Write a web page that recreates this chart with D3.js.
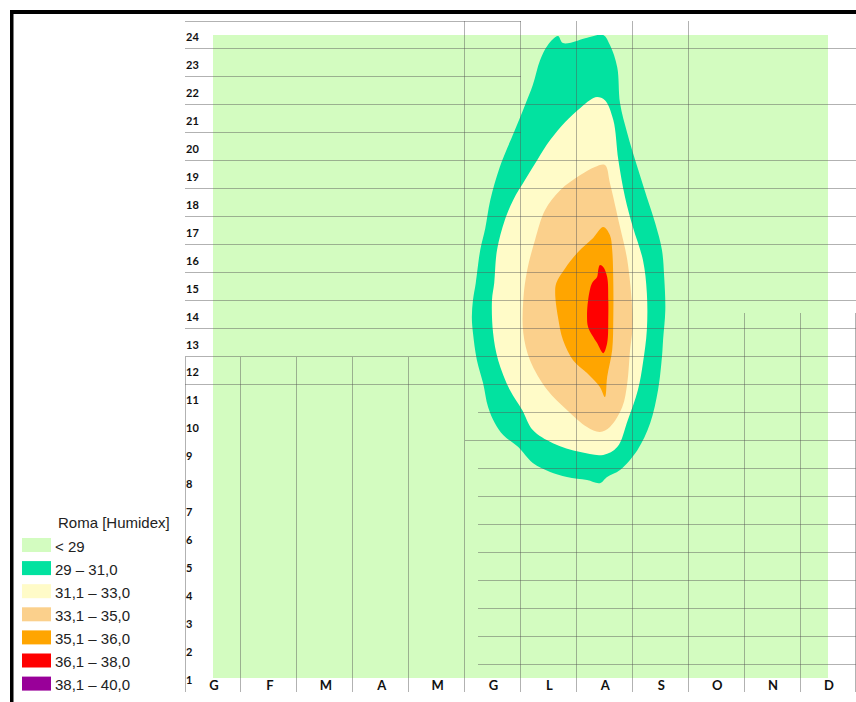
<!DOCTYPE html>
<html>
<head>
<meta charset="utf-8">
<script src="https://cdn.jsdelivr.net/npm/d3@7"></script>
<style>
  body { margin: 0; background: #fff; }
  svg { display: block; }
</style>
</head>
<body>
<svg id="chart" width="856" height="702"></svg>
<script>
// Month initials (Italian) and hours of the day
const months = ["G", "F", "M", "A", "M", "G", "L", "A", "S", "O", "N", "D"];
const hours = d3.range(1, 25);

// Legend classes
const legendTitle = "Roma [Humidex]";
const classLabels = ["< 29", "29 – 31,0", "31,1 – 33,0", "33,1 – 35,0", "35,1 – 36,0", "36,1 – 38,0", "38,1 – 40,0"];
const classColors = ["#d3fcc0", "#02e2a0", "#fffbc8", "#fbd08c", "#ffa500", "#ff0000", "#990099"];

// Isolines of the humidex field, as [month, hour] outlines
const iso29 = [
  [6.99, 23.64], [7.17, 23.96], [7.26, 23.71], [7.74, 23.93], [7.98, 24.00], [8.10, 23.64],
  [8.23, 22.85], [8.28, 21.57], [8.41, 20.49], [8.59, 19.28], [8.76, 18.20], [8.91, 17.27],
  [9.03, 16.31], [9.07, 15.34], [9.09, 14.16], [9.05, 13.09], [9.03, 12.48], [8.96, 11.30],
  [8.82, 10.12], [8.59, 9.15], [8.28, 8.44], [8.05, 8.19], [7.92, 7.97], [7.69, 8.08],
  [7.33, 8.19], [7.03, 8.37], [6.72, 8.69], [6.46, 9.26], [6.19, 9.69], [6.04, 10.12],
  [5.92, 10.69], [5.83, 11.55], [5.72, 12.37], [5.65, 13.34], [5.63, 13.91], [5.65, 14.52],
  [5.70, 15.13], [5.78, 16.31], [5.87, 17.09], [5.96, 18.10], [6.13, 19.28], [6.40, 20.60],
  [6.58, 21.49], [6.72, 22.21], [6.85, 23.10]
];
const iso31 = [
  [7.87, 21.78], [8.01, 21.67], [8.16, 20.96], [8.25, 19.53], [8.37, 18.20], [8.51, 17.13],
  [8.69, 15.95], [8.76, 14.77], [8.76, 13.45], [8.69, 12.27], [8.60, 11.30], [8.42, 10.23],
  [8.23, 9.26], [7.98, 8.98], [7.57, 9.08], [7.08, 9.40], [6.72, 9.87], [6.53, 10.59],
  [6.31, 11.30], [6.10, 12.37], [6.01, 13.34], [5.99, 14.52], [6.03, 15.13], [6.08, 16.31],
  [6.22, 17.38], [6.37, 18.10], [6.58, 18.81], [6.80, 19.53], [7.03, 20.24], [7.30, 20.89],
  [7.57, 21.39], [7.74, 21.67]
];
const iso33 = [
  [8.01, 19.35], [8.10, 18.70], [8.28, 17.13], [8.41, 15.95], [8.50, 14.16], [8.50, 13.45],
  [8.46, 12.73], [8.41, 11.55], [8.32, 10.69], [8.10, 9.98], [7.92, 9.80], [7.69, 9.98],
  [7.33, 10.59], [6.98, 11.30], [6.67, 12.37], [6.55, 13.34], [6.55, 14.52], [6.62, 15.59],
  [6.76, 16.67], [6.94, 17.74], [7.21, 18.45], [7.57, 18.99], [7.83, 19.28]
];
const iso35 = [
  [7.98, 17.13], [8.10, 16.84], [8.14, 16.31], [8.16, 15.13], [8.16, 13.91], [8.14, 12.73],
  [8.05, 11.77], [8.01, 11.05], [7.92, 11.41], [7.69, 11.91], [7.44, 12.37], [7.26, 13.09],
  [7.17, 13.91], [7.12, 14.77], [7.14, 15.13], [7.30, 15.66], [7.53, 16.24], [7.80, 16.74]
];
const iso36 = [
  [7.92, 15.77], [7.98, 15.70], [8.05, 15.34], [8.07, 14.52], [8.07, 13.91], [8.05, 12.98],
  [7.98, 12.62], [7.87, 12.98], [7.71, 13.55], [7.69, 13.91], [7.71, 14.52], [7.78, 15.13],
  [7.87, 15.34], [7.89, 15.59]
];

const bands = [
  { outline: iso29, color: classColors[1] },
  { outline: iso31, color: classColors[2] },
  { outline: iso33, color: classColors[3] },
  { outline: iso35, color: classColors[4] },
  { outline: iso36, color: classColors[5] }
];

const svg = d3.select("#chart");

const x = d3.scaleLinear().domain([1, 12]).range([213, 828]);
const y = d3.scaleLinear().domain([1, 24]).range([678, 35]);

// Field background (< 29)
svg.append("defs").append("clipPath").attr("id", "field")
  .append("rect")
  .attr("x", x(1)).attr("y", y(24))
  .attr("width", x(12) - x(1)).attr("height", y(1) - y(24));

svg.append("rect")
  .attr("x", x(1)).attr("y", y(24))
  .attr("width", x(12) - x(1)).attr("height", y(1) - y(24))
  .attr("fill", classColors[0]);

// Humidex bands
const outline = d3.line()
  .x(d => x(d[0]))
  .y(d => y(d[1]))
  .curve(d3.curveCatmullRomClosed.alpha(0.5));

svg.append("g").attr("clip-path", "url(#field)")
  .selectAll("path")
  .data(bands)
  .join("path")
  .attr("d", d => outline(d.outline))
  .attr("fill", d => d.color);

// Table grid: [hour boundary, from month, to month] and [month boundary, from hour, to hour]
const hLines = [
  [24.5, 0.5, 6.5], [23.5, 0.5, 12.5], [22.5, 0.5, 6.5], [21.5, 0.5, 12.5], [20.5, 0.5, 6.5],
  [19.5, 0.5, 12.5], [18.5, 0.5, 12.5], [17.5, 0.5, 12.5], [16.5, 0.5, 12.5], [15.5, 0.5, 12.5],
  [14.5, 0.5, 12.5], [13.5, 0.5, 12.5], [12.5, 0.5, 12.5], [11.5, 0.5, 12.5],
  [10.5, 5.74, 12.5], [9.5, 5.5, 12.5], [8.5, 5.74, 12.5], [7.5, 5.74, 12.5], [6.5, 5.74, 12.5],
  [5.5, 5.74, 12.5], [4.5, 5.74, 12.5], [3.5, 5.74, 12.5], [2.5, 5.74, 12.5], [1.5, 5.74, 12.5]
];
const vLines = [
  [0.5, 0.5, 12.5], [1.5, 0.5, 12.5], [2.5, 0.5, 12.5], [3.5, 0.5, 12.5], [4.5, 0.5, 12.5],
  [5.5, 0.5, 24.5], [6.5, 0.5, 24.5], [7.5, 0.5, 24.5], [8.5, 0.5, 24.5], [9.5, 0.5, 24.5],
  [10.5, 0.5, 14.05], [11.5, 0.5, 14.05], [12.5, 0.5, 14.05]
];

const grid = svg.append("g")
  .attr("stroke", "#555")
  .attr("stroke-opacity", 0.45)
  .attr("stroke-width", 1)
  .attr("shape-rendering", "crispEdges");

grid.selectAll("line.h").data(hLines).join("line").attr("class", "h")
  .attr("x1", d => x(d[1])).attr("x2", d => x(d[2]))
  .attr("y1", d => y(d[0])).attr("y2", d => y(d[0]));

grid.selectAll("line.v").data(vLines).join("line").attr("class", "v")
  .attr("x1", d => x(d[0])).attr("x2", d => x(d[0]))
  .attr("y1", d => y(d[1])).attr("y2", d => y(d[2]));

// Hour labels
svg.append("g")
  .selectAll("text")
  .data(hours)
  .join("text")
  .attr("x", 186)
  .attr("y", d => y(d) + 1.5)
  .attr("dominant-baseline", "central")
  .attr("font-family", "Lato, 'Open Sans', sans-serif")
  .attr("font-weight", "bold")
  .attr("font-size", 11)
  .attr("fill", "#111")
  .text(d => d);

// Month labels
svg.append("g")
  .selectAll("text")
  .data(months)
  .join("text")
  .attr("x", (d, i) => x(i + 1) + 1)
  .attr("y", 685)
  .attr("text-anchor", "middle")
  .attr("dominant-baseline", "central")
  .attr("font-family", "Lato, 'Open Sans', sans-serif")
  .attr("font-weight", "bold")
  .attr("font-size", 13)
  .attr("fill", "#111")
  .text(d => d);

// Legend
const legend = svg.append("g");
legend.append("text")
  .attr("x", 58).attr("y", 522)
  .attr("dominant-baseline", "central")
  .attr("font-family", "'Liberation Sans', Arial, sans-serif")
  .attr("font-size", 15)
  .attr("fill", "#222")
  .text(legendTitle);

const rows = legend.selectAll("g.row")
  .data(classLabels)
  .join("g").attr("class", "row")
  .attr("transform", (d, i) => `translate(0, ${538 + i * 23.1})`);

rows.append("rect")
  .attr("x", 22).attr("y", 0)
  .attr("width", 29).attr("height", 14)
  .attr("fill", (d, i) => classColors[i]);

rows.append("text")
  .attr("x", 55).attr("y", 8)
  .attr("dominant-baseline", "central")
  .attr("font-family", "'Liberation Sans', Arial, sans-serif")
  .attr("font-size", 15)
  .attr("fill", "#222")
  .text(d => d);

// Frame
svg.append("rect").attr("x", 10).attr("y", 10).attr("width", 846).attr("height", 4).attr("fill", "#000");
svg.append("rect").attr("x", 10).attr("y", 10).attr("width", 3.5).attr("height", 692).attr("fill", "#000");
</script>
</body>
</html>
